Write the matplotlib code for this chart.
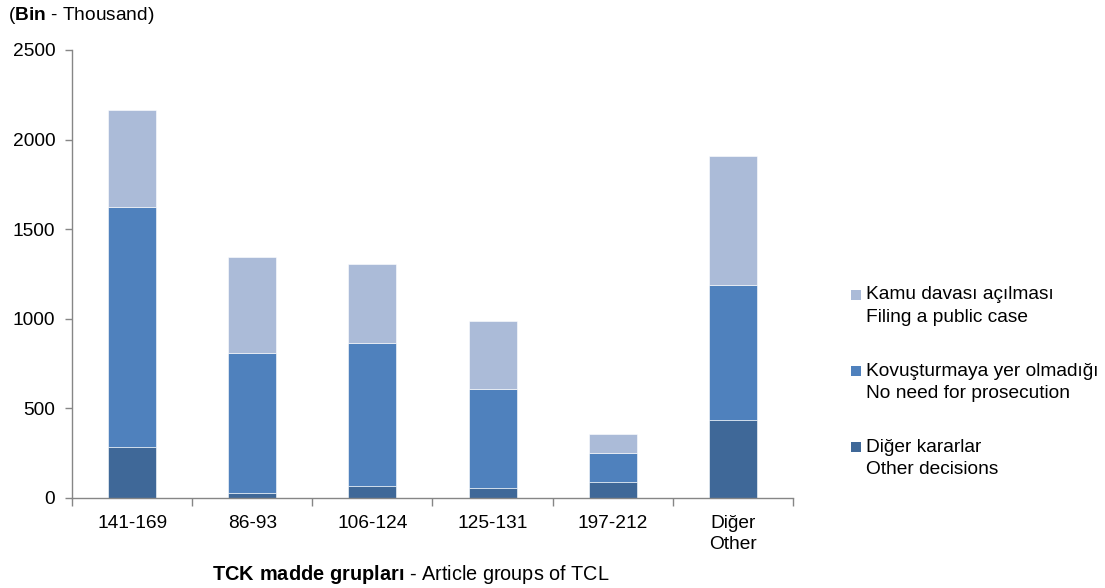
import matplotlib
matplotlib.use("Agg")
import matplotlib.pyplot as plt
from matplotlib.patches import Rectangle
import numpy as np

plt.rcParams['font.family'] = ['Liberation Sans', 'DejaVu Sans']
plt.rcParams['mathtext.fontset'] = 'custom'
plt.rcParams['mathtext.rm'] = 'Liberation Sans'
plt.rcParams['mathtext.bf'] = 'Liberation Sans:bold'

categories = ["141-169", "86-93", "106-124", "125-131", "197-212", "Diğer\nOther"]
other_decisions = [285, 28, 67, 56, 89, 435]
no_prosecution = [1339, 781, 798, 552, 162, 754]
public_case = [541, 536, 441, 380, 106, 719]

series_labels = [
    ("Kamu davası açılması", "Filing a public case"),
    ("Kovuşturmaya yer olmadığı", "No need for prosecution"),
    ("Diğer kararlar", "Other decisions"),
]
c_light = "#ABBBD8"
c_mid = "#4F81BD"
c_dark = "#3F6898"
FS = 13.8

fig = plt.figure(figsize=(11.05, 5.88), dpi=100)
ax = fig.add_axes([72/1105, 1-498/588, (793-72)/1105, (498-50)/588])

x = np.arange(len(categories))
w = 0.4
d = np.array(other_decisions)
m = np.array(no_prosecution)
p = np.array(public_case)
ax.bar(x, d, w, color=c_dark, edgecolor="white", linewidth=0.4)
ax.bar(x, m, w, bottom=d, color=c_mid, edgecolor="white", linewidth=0.4)
ax.bar(x, p, w, bottom=d+m, color=c_light, edgecolor="white", linewidth=0.4)

ax.set_xlim(-0.5, len(categories)-0.5)
ax.set_ylim(0, 2500)
ax.set_yticks([0, 500, 1000, 1500, 2000, 2500])
ax.set_xticks(x)
ax.set_xticklabels(categories, fontsize=FS, linespacing=1.35)
ax.set_xticks(np.arange(-0.5, len(categories), 1.0), minor=True)
ax.tick_params(axis='x', which='major', length=0, pad=12)
ax.tick_params(axis='x', which='minor', length=6, color="#868686", width=1)
ax.tick_params(axis='y', length=5, color="#868686", width=1, labelsize=FS, pad=7)
for s in ['top', 'right']:
    ax.spines[s].set_visible(False)
for s in ['left', 'bottom']:
    ax.spines[s].set_color("#868686")
    ax.spines[s].set_linewidth(1)

fig.text(8/1105, 1-16/588, "(" + r"$\mathbf{Bin}$" + " - Thousand)", fontsize=FS, va='center', ha='left')
fig.text(411/1105, 1-575/588, r"$\mathbf{TCK\ madde\ grupları}$" + " - Article groups of TCL",
         fontsize=14.3, va='center', ha='center')

# legend
colors = [c_light, c_mid, c_dark]
ys = [295, 371, 447]
for (l1, l2), c, yy in zip(series_labels, colors, ys):
    fig.patches.append(Rectangle((851/1105, 1-(yy+5)/588), 10/1105, 10/588,
                                 transform=fig.transFigure, facecolor=c, edgecolor='none'))
    fig.text(866/1105, 1-yy/588, l1, fontsize=FS, va='center', ha='left')
    fig.text(866/1105, 1-(yy+23)/588, l2, fontsize=FS, va='center', ha='left')

fig.savefig("out.png", dpi=100)
